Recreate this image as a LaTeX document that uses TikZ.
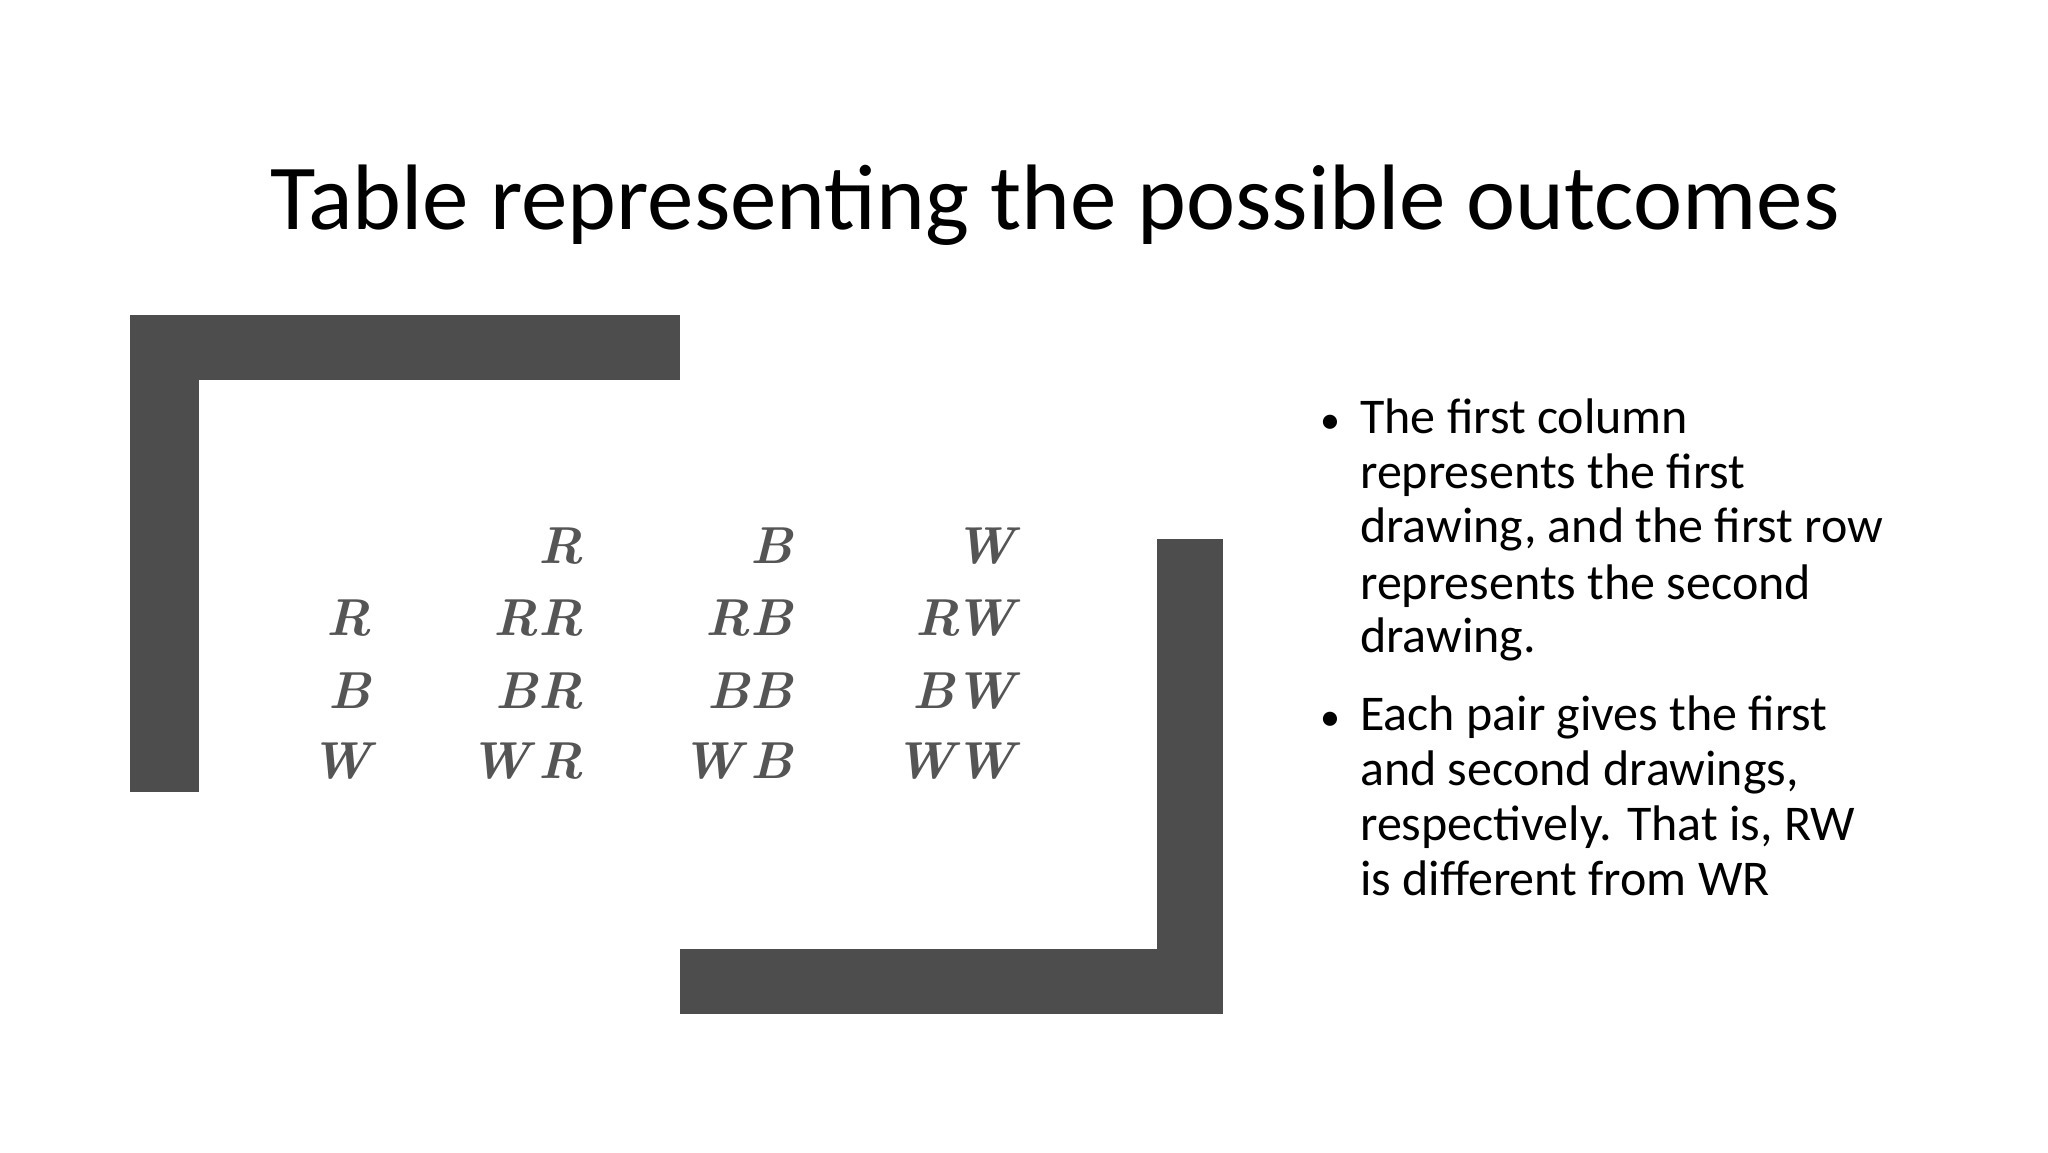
\documentclass[tikz,border=0pt]{standalone}
\usepackage{fontspec}
\setmainfont{Carlito}
\newfontfamily\lmit{Latin Modern Roman}
\definecolor{bar}{HTML}{4D4D4D}
\definecolor{tx}{HTML}{555555}
\begin{document}
\begin{tikzpicture}[x=1pt,y=-1pt,
  barfill/.style={fill=bar,draw=none},
  cell/.style={anchor=base east,inner sep=0,text=tx,font=\lmit\itshape\bfseries\fontsize{52}{52}\selectfont},
  bl/.style={anchor=base west,inner sep=0,font=\fontsize{50}{50}\selectfont},
  bu/.style={anchor=base west,inner sep=0,font=\fontsize{40}{40}\selectfont}]
\useasboundingbox (0,0) rectangle (2048,1152);
\node[anchor=base west,inner sep=0,font=\fontsize{93}{93}\selectfont] (title) at (270,229) {Table representing the possible outcomes};
\fill[barfill] (130,315) rectangle (680,380);
\fill[barfill] (130,315) rectangle (199,792);
\fill[barfill] (1157,539) rectangle (1223,1014);
\fill[barfill] (680,949) rectangle (1223,1014);
\foreach \y/\a/\b/\c/\d [count=\i] in {563/{}/R/B/W,635/R/RR/RB/RW,708/B/BR/BB/BW,778/W/W\,R/W\,B/WW}{
  \node[cell] (c\i a) at (371,\y) {\a};
  \node[cell] (c\i b) at (583,\y) {\b};
  \node[cell] (c\i c) at (793,\y) {\c};
  \node[cell] (c\i d) at (1015,\y) {\d};
}
\node[bu] (b1) at (1320,433) {•};
\node[bu] (b2) at (1320,730) {•};
\foreach \y/\t [count=\i] in {433/The first column,488/represents the first,542/{drawing, and the first row},599/represents the second,652/drawing.,730/Each pair gives the first,785/{and second drawings,},840/{respectively. That is, RW},895/is different from WR}{
  \node[bl] (l\i) at (1360,\y) {\t};
}
\end{tikzpicture}
\end{document}
